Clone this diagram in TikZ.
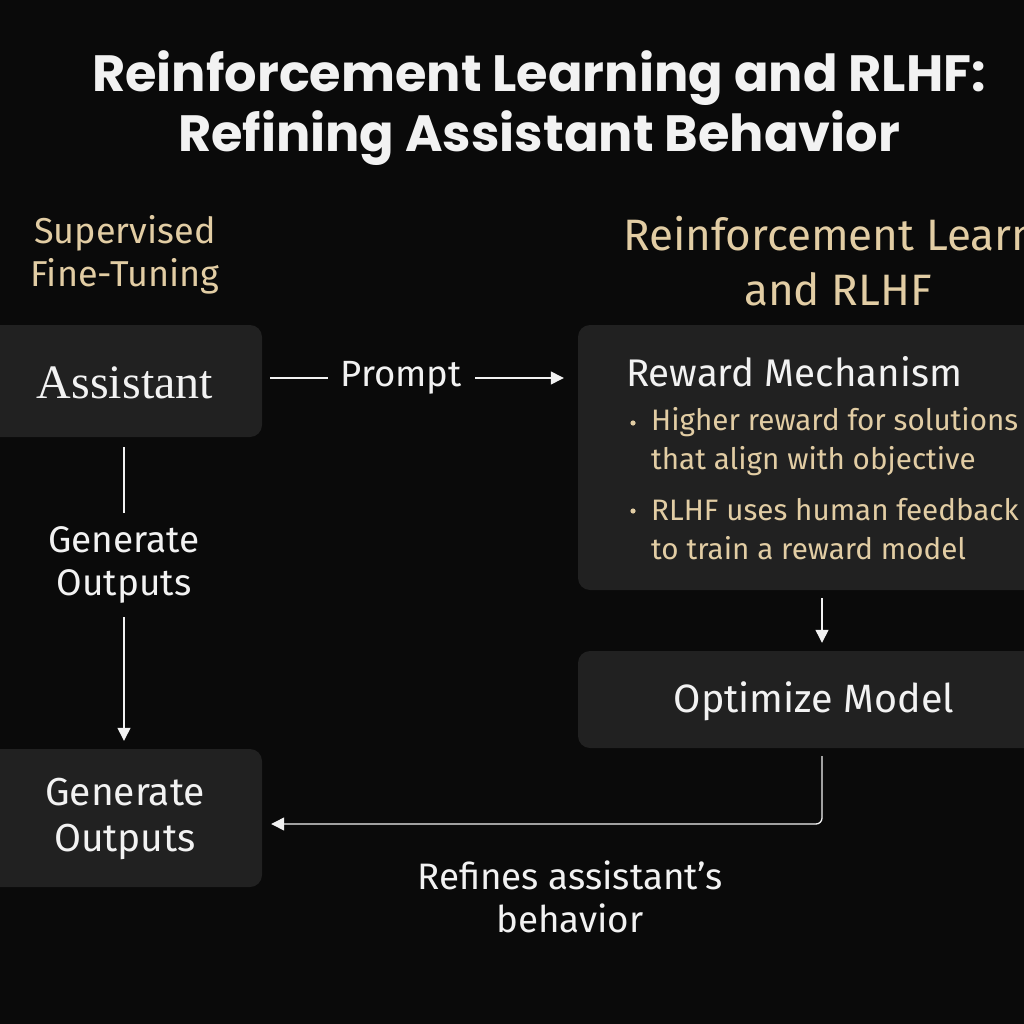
\documentclass[tikz,border=0pt]{standalone}
\usepackage{fontspec}
\setmainfont{Fira Sans}
\newfontfamily\titlefont{Poppins}
\newfontfamily\serifface{Liberation Serif}
\usetikzlibrary{arrows.meta}
\definecolor{bg}{HTML}{0A0A0A}
\definecolor{boxfill}{HTML}{212121}
\definecolor{tan}{HTML}{E2CDA4}
\definecolor{txt}{HTML}{F2F2F2}
\tikzset{
  panel/.style={fill=boxfill, rounded corners=12pt, draw=none},
  lbl/.style={text=txt, align=center, inner sep=0pt},
  arr/.style={draw=txt, line width=1.3pt, -{Triangle[length=13pt,width=13pt]}},
}
\newcommand{\fs}[2]{\fontsize{#1}{#2}\selectfont}
\begin{document}
\begin{tikzpicture}[x=1pt,y=-1pt]
\useasboundingbox (0,0) rectangle (1024,1024);
\clip (0,0) rectangle (1024,1024);
\fill[bg] (0,0) rectangle (1024,1024);

% title
\node[lbl, font=\titlefont\bfseries\fs{51}{60}] (title) at (539,108) {Reinforcement Learning and RLHF:\\Refining Assistant Behavior};

% section headings
\node[lbl, text=tan, font=\fs{36}{43}] (sft) at (125,255) {Supervised\\Fine-Tuning};
\node[lbl, text=tan, font=\fs{44}{51}, anchor=west] (rlh1) at (623,238) {Reinforcement Learning};
\node[lbl, text=tan, font=\fs{44}{51}] (rlh2) at (838,289) {and RLHF};

% boxes
\node[panel, minimum width=300pt, minimum height=112pt] (asst) at (112,381) {};
\node[lbl, font=\serifface\fs{48}{50}] at (125,383) {Assistant};

\node[panel, minimum width=300pt, minimum height=138pt] (gen) at (112,818) {};
\node[lbl, font=\fs{39}{46}] at (125,819) {Generate\\Outputs};

\node[panel, minimum width=466pt, minimum height=265pt] (reward) at (811,457.5) {};
\node[lbl, font=\fs{38.5}{40}, anchor=west] (rmtitle) at (626,372) {Reward Mechanism};
\node[lbl, text=tan, font=\fs{29.6}{39}, anchor=west, align=left] (b1) at (651,441.5) {Higher reward for solutions\\that align with objective};
\node[lbl, text=tan, font=\fs{29.6}{39}, anchor=west, align=left] (b2) at (651,529.5) {RLHF uses human feedback\\to train a reward model};
\fill[tan] (633,423) circle (2.6pt);
\fill[tan] (633,511) circle (2.6pt);

\node[panel, minimum width=466pt, minimum height=97pt] (opt) at (811,699.5) {};
\node[lbl, font=\fs{39.5}{40}] at (814,701) {Optimize Model};

% connectors
\draw[arr, shorten <=8pt, shorten >=14pt] ([yshift=3pt]asst.east) -- ([yshift=3pt]asst.east -| reward.west)
  node[pos=0.44, fill=bg, inner xsep=13pt, inner ysep=4pt, text=txt, font=\fs{36.5}{40}] {Prompt};
\draw[arr, shorten <=10pt, shorten >=8pt] ([xshift=12pt]asst.south) -- ([xshift=12pt]gen.north)
  node[pos=0.41, fill=bg, inner xsep=6pt, inner ysep=14pt, text=txt, align=center, font=\fs{37}{43}] {Generate\\Outputs};
\draw[arr, shorten <=8pt, shorten >=8pt] ([xshift=11pt]reward.south) -- ([xshift=11pt]opt.north);
\draw[arr, rounded corners=6pt, shorten >=9pt] ([xshift=11pt,yshift=-8pt]opt.south) |- ([yshift=-6pt]gen.east);
\node[lbl, font=\fs{36.8}{43}] (refines) at (570,897) {Refines assistant’s\\behavior};
\end{tikzpicture}
\end{document}
